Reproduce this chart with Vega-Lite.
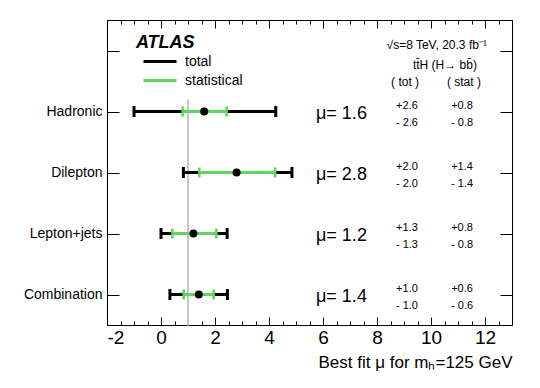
{
  "$schema": "https://vega.github.io/schema/vega-lite/v6.json",
  "width": 405,
  "height": 305,
  "autosize": {"type": "none"},
  "padding": {"left": 107, "top": 20, "right": 28, "bottom": 63},
  "background": "white",
  "config": {
    "font": "Liberation Sans",
    "view": {"stroke": null},
    "axis": {"grid": false, "domainColor": "black", "tickColor": "black", "labelColor": "black", "titleColor": "black", "domainWidth": 1, "tickWidth": 1}
  },
  "data": {
    "values": [
      {"cat": "Hadronic", "mu": 1.6, "tot_lo": -1.0, "tot_hi": 4.25, "stat_lo": 0.8, "stat_hi": 2.43, "tot_up": 2.6, "tot_dn": 2.6, "stat_up": 0.8, "stat_dn": 0.8},
      {"cat": "Dilepton", "mu": 2.8, "tot_lo": 0.83, "tot_hi": 4.85, "stat_lo": 1.42, "stat_hi": 4.23, "tot_up": 2.0, "tot_dn": 2.0, "stat_up": 1.4, "stat_dn": 1.4},
      {"cat": "Lepton+jets", "mu": 1.2, "tot_lo": 0.0, "tot_hi": 2.45, "stat_lo": 0.42, "stat_hi": 2.05, "tot_up": 1.3, "tot_dn": 1.3, "stat_up": 0.8, "stat_dn": 0.8},
      {"cat": "Combination", "mu": 1.4, "tot_lo": 0.33, "tot_hi": 2.46, "stat_lo": 0.84, "stat_hi": 1.95, "tot_up": 1.0, "tot_dn": 1.0, "stat_up": 0.6, "stat_dn": 0.6}
    ]
  },
  "layer": [
    {
      "data": {"values": [{"mu_SM": 1}]},
      "mark": {"type": "rule", "color": "#c8c8c8", "strokeWidth": 2, "yOffset": -12, "y2Offset": 31},
      "encoding": {
        "x": {"field": "mu_SM", "type": "quantitative", "scale": {"domain": [-2, 13], "nice": false, "zero": false},
          "axis": {"orient": "bottom", "values": [-2, 0, 2, 4, 6, 8, 10, 12], "tickSize": -8, "labelFontSize": 19, "labelPadding": 11, "labelExpr": "replace(datum.label, '\u2212', '-')", "title": "Best fit μ for mₕ=125 GeV", "titleAnchor": "end", "titleFontSize": 17, "titleFontWeight": "normal", "titlePadding": 7}},
        "y": {"datum": "Hadronic", "type": "nominal", "scale": {"type": "point", "domain": ["legend", "Hadronic", "Dilepton", "Lepton+jets", "Combination"], "padding": 0.5},
          "axis": {"orient": "left", "tickSize": -12, "labelFontSize": 14, "labelPadding": 17, "labelExpr": "datum.value == 'legend' ? '' : datum.value", "title": null}},
        "y2": {"datum": "Combination"}
      }
    },
    {
      "mark": {"type": "rule", "strokeWidth": 3},
      "encoding": {
        "x": {"field": "tot_lo", "type": "quantitative", "axis": {"orient": "bottom", "values": [-2, -1.5, -1, -0.5, 0, 0.5, 1, 1.5, 2, 2.5, 3, 3.5, 4, 4.5, 5, 5.5, 6, 6.5, 7, 7.5, 8, 8.5, 9, 9.5, 10, 10.5, 11, 11.5, 12, 12.5, 13], "tickSize": -4, "labels": false, "domain": false, "title": null}},
        "x2": {"field": "tot_hi"},
        "y": {"field": "cat", "type": "nominal", "axis": {"orient": "right", "tickSize": -12, "labels": false, "title": null}},
        "color": {"datum": "total", "type": "nominal", "scale": {"domain": ["total", "statistical"], "range": ["black", "#5cd65c"]},
          "legend": {"orient": "none", "legendX": 35, "legendY": 33, "title": null, "symbolType": "stroke", "symbolSize": 1089, "symbolStrokeWidth": 3, "labelFontSize": 14, "labelColor": "black", "labelOffset": 7, "clipHeight": 17, "rowPadding": 2}}
      }
    },
    {
      "mark": {"type": "tick", "color": "black", "thickness": 3, "size": 11, "opacity": 1},
      "encoding": {"x": {"field": "tot_lo", "type": "quantitative", "axis": null}, "y": {"field": "cat", "type": "nominal", "axis": null}}
    },
    {
      "mark": {"type": "tick", "color": "black", "thickness": 3, "size": 11, "opacity": 1},
      "encoding": {"x": {"field": "tot_hi", "type": "quantitative", "axis": null}, "y": {"field": "cat", "type": "nominal", "axis": null}}
    },
    {
      "mark": {"type": "rule", "strokeWidth": 3},
      "encoding": {
        "x": {"field": "stat_lo", "type": "quantitative", "axis": {"orient": "top", "values": [-2, 0, 2, 4, 6, 8, 10, 12], "tickSize": -8, "labels": false, "title": null}},
        "x2": {"field": "stat_hi"},
        "y": {"field": "cat", "type": "nominal", "axis": null},
        "color": {"datum": "statistical", "type": "nominal"}
      }
    },
    {
      "mark": {"type": "tick", "color": "#5cd65c", "thickness": 2.5, "size": 10, "opacity": 1},
      "encoding": {"x": {"field": "stat_lo", "type": "quantitative", "axis": null}, "y": {"field": "cat", "type": "nominal", "axis": null}}
    },
    {
      "mark": {"type": "tick", "color": "#5cd65c", "thickness": 2.5, "size": 10, "opacity": 1},
      "encoding": {"x": {"field": "stat_hi", "type": "quantitative", "axis": null}, "y": {"field": "cat", "type": "nominal", "axis": null}}
    },
    {
      "mark": {"type": "circle", "color": "black", "opacity": 1, "size": 64},
      "encoding": {
        "x": {"field": "mu", "type": "quantitative", "axis": {"orient": "top", "values": [-2, -1.5, -1, -0.5, 0, 0.5, 1, 1.5, 2, 2.5, 3, 3.5, 4, 4.5, 5, 5.5, 6, 6.5, 7, 7.5, 8, 8.5, 9, 9.5, 10, 10.5, 11, 11.5, 12, 12.5, 13], "tickSize": -4, "labels": false, "domain": false, "title": null}},
        "y": {"field": "cat", "type": "nominal", "axis": null}
      }
    },
    {
      "mark": {"type": "text", "align": "left", "baseline": "alphabetic", "dy": 7, "fontSize": 18, "color": "black", "text": {"expr": "'μ= ' + format(datum.mu, '.1f')"}},
      "encoding": {"x": {"datum": 5.74, "type": "quantitative", "axis": null}, "y": {"field": "cat", "type": "nominal", "axis": null}}
    },
    {
      "mark": {"type": "text", "align": "center", "baseline": "alphabetic", "dy": -3, "fontSize": 11, "color": "black", "text": {"expr": "'+' + format(datum.tot_up, '.1f')"}},
      "encoding": {"x": {"datum": 9.11, "type": "quantitative", "axis": null}, "y": {"field": "cat", "type": "nominal", "axis": null}}
    },
    {
      "mark": {"type": "text", "align": "center", "baseline": "alphabetic", "dy": 14, "fontSize": 11, "color": "black", "text": {"expr": "'- ' + format(datum.tot_dn, '.1f')"}},
      "encoding": {"x": {"datum": 9.11, "type": "quantitative", "axis": null}, "y": {"field": "cat", "type": "nominal", "axis": null}}
    },
    {
      "mark": {"type": "text", "align": "center", "baseline": "alphabetic", "dy": -3, "fontSize": 11, "color": "black", "text": {"expr": "'+' + format(datum.stat_up, '.1f')"}},
      "encoding": {"x": {"datum": 11.15, "type": "quantitative", "axis": null}, "y": {"field": "cat", "type": "nominal", "axis": null}}
    },
    {
      "mark": {"type": "text", "align": "center", "baseline": "alphabetic", "dy": 14, "fontSize": 11, "color": "black", "text": {"expr": "'- ' + format(datum.stat_dn, '.1f')"}},
      "encoding": {"x": {"datum": 11.15, "type": "quantitative", "axis": null}, "y": {"field": "cat", "type": "nominal", "axis": null}}
    },
    {
      "data": {"values": [{"t": "ATLAS"}]},
      "mark": {"type": "text", "align": "left", "baseline": "alphabetic", "dy": -3, "fontSize": 18, "fontWeight": "bold", "fontStyle": "italic", "color": "black"},
      "encoding": {"x": {"datum": -0.93, "type": "quantitative", "axis": null}, "y": {"datum": "legend", "type": "nominal", "axis": null}, "text": {"field": "t"}}
    },
    {
      "data": {"values": [{"t": "√s=8 TeV, 20.3 fb⁻¹"}]},
      "mark": {"type": "text", "align": "right", "baseline": "alphabetic", "dy": -2, "fontSize": 12, "color": "black"},
      "encoding": {"x": {"datum": 12.07, "type": "quantitative", "axis": null}, "y": {"datum": "legend", "type": "nominal", "axis": null}, "text": {"field": "t"}}
    },
    {
      "data": {"values": [{"t": "tt̄H (H→ bb̄)"}]},
      "mark": {"type": "text", "align": "right", "baseline": "alphabetic", "dy": 18, "fontSize": 12, "color": "black"},
      "encoding": {"x": {"datum": 11.7, "type": "quantitative", "axis": null}, "y": {"datum": "legend", "type": "nominal", "axis": null}, "text": {"field": "t"}}
    },
    {
      "data": {"values": [{"t": "( tot )"}]},
      "mark": {"type": "text", "align": "center", "baseline": "alphabetic", "dy": 35, "fontSize": 12, "color": "black"},
      "encoding": {"x": {"datum": 9.04, "type": "quantitative", "axis": null}, "y": {"datum": "legend", "type": "nominal", "axis": null}, "text": {"field": "t"}}
    },
    {
      "data": {"values": [{"t": "( stat )"}]},
      "mark": {"type": "text", "align": "center", "baseline": "alphabetic", "dy": 35, "fontSize": 12, "color": "black"},
      "encoding": {"x": {"datum": 11.22, "type": "quantitative", "axis": null}, "y": {"datum": "legend", "type": "nominal", "axis": null}, "text": {"field": "t"}}
    }
  ],
  "resolve": {"axis": {"x": "independent", "y": "independent"}}
}
